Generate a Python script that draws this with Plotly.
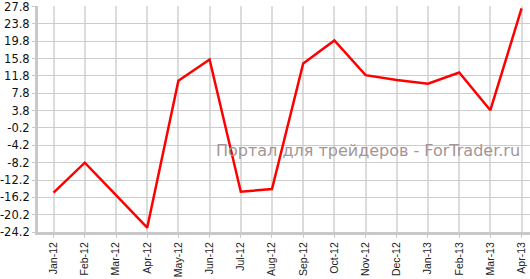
import plotly.graph_objects as go

months = ["Jan-12", "Feb-12", "Mar-12", "Apr-12", "May-12", "Jun-12", "Jul-12", "Aug-12",
          "Sep-12", "Oct-12", "Nov-12", "Dec-12", "Jan-13", "Feb-13", "Mar-13", "Apr-13"]
values = [-15.1, -8.2, -15.7, -23.2, 10.7, 15.6, -14.9, -14.3,
          14.7, 20.0, 12.0, 10.9, 10.0, 12.6, 3.9, 27.4]
y_ticks = [-24.2, -20.2, -16.2, -12.2, -8.2, -4.2, -0.2, 3.8, 7.8, 11.8, 15.8, 19.8, 23.8, 27.8]
y_tick_labels = [f"{v:.1f}" for v in y_ticks]
watermark = "Портал для трейдеров - ForTrader.ru"

fig = go.Figure()
fig.add_trace(go.Scatter(x=months, y=values, mode="lines",
                         line=dict(color="#ff0000", width=2.5), hoverinfo="x+y"))

fig.update_layout(
    width=530, height=279,
    margin=dict(l=38, r=0, t=6, b=47),
    plot_bgcolor="white", paper_bgcolor="white",
    showlegend=False,
    xaxis=dict(
        type="category", range=[-0.5, 15.27],
        showgrid=True, gridcolor="#dcdcdc", gridwidth=2,
        showline=True, linecolor="#c8c8c8", linewidth=3,
        ticks="outside", ticklen=3, tickcolor="#c8c8c8",
        tickangle=-90, automargin=False,
        tickfont=dict(family="Liberation Sans, Arial", size=10.5, color="#222"),
        zeroline=False,
    ),
    yaxis=dict(
        range=[-24.2, 27.95],
        tickvals=y_ticks, ticktext=y_tick_labels,
        showgrid=True, gridcolor="#cccccc", gridwidth=1,
        showline=True, linecolor="#c8c8c8", linewidth=3,
        ticks="outside", ticklen=3, tickcolor="#c8c8c8",
        ticklabeloverflow="allow", automargin=False,
        tickfont=dict(family="DejaVu Sans, Verdana", size=11.5, color="#111"),
        zeroline=False,
    ),
    annotations=[dict(
        text=watermark, xref="paper", yref="paper", x=0.671, y=0.361,
        showarrow=False, font=dict(family="DejaVu Sans, Verdana", size=16, color="#a39595"),
        xanchor="center", yanchor="middle",
    )],
)

fig.write_html("out.html")
